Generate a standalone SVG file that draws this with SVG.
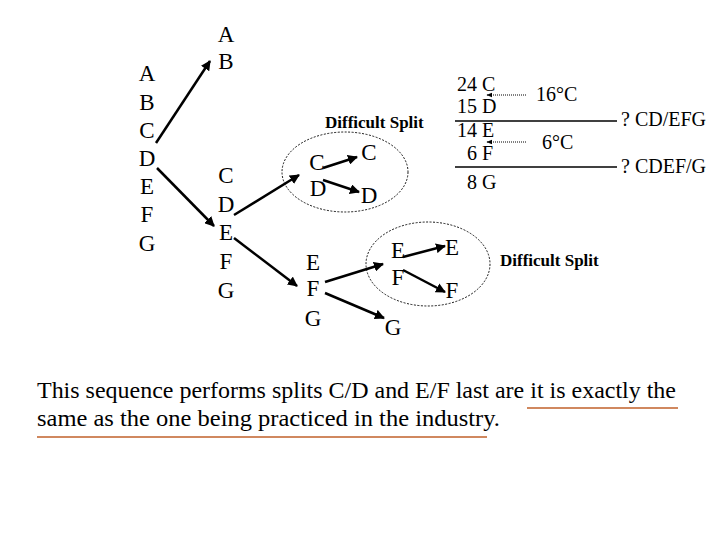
<svg xmlns="http://www.w3.org/2000/svg" width="720" height="540" viewBox="0 0 720 540">
<defs>
<marker id="ah" viewBox="0 0 10 10" refX="9" refY="5" markerWidth="4" markerHeight="4" orient="auto" markerUnits="strokeWidth"><path d="M0,0 L10,5 L0,10 z" fill="#000"/></marker>
<marker id="ahs" viewBox="0 0 10 10" refX="9" refY="5" markerWidth="6" markerHeight="6" orient="auto" markerUnits="userSpaceOnUse"><path d="M0,1 L10,5 L0,9 z" fill="#000"/></marker>
</defs>
<style>
text{font-family:"Liberation Serif","Times New Roman",serif;fill:#000}
.l{font-size:23px;text-anchor:middle}
.t{font-size:20px}
.s{font-size:17px;font-weight:bold}
.b{font-size:23px}
.c{stroke:#000;stroke-width:2.5;fill:none;marker-end:url(#ah)}
.d{stroke:#000;stroke-width:1;stroke-dasharray:1,1;fill:none;marker-end:url(#ahs)}
.e{stroke:#000;stroke-width:0.9;stroke-dasharray:2,1.5;fill:none}
.h{stroke:#000;stroke-width:1.3}
.u{stroke:#c0602a;stroke-width:1.3}
</style>
<rect width="720" height="540" fill="#fff"/>
<g id="col1">
<text class="l" x="147" y="81">A</text>
<text class="l" x="147" y="110">B</text>
<text class="l" x="147" y="138">C</text>
<text class="l" x="147" y="166">D</text>
<text class="l" x="147" y="194">E</text>
<text class="l" x="147" y="222">F</text>
<text class="l" x="147" y="251">G</text>
</g>
<g id="ab">
<text class="l" x="226" y="42">A</text>
<text class="l" x="226" y="69">B</text>
</g>
<g id="cdefg">
<text class="l" x="226" y="183">C</text>
<text class="l" x="226" y="212">D</text>
<text class="l" x="226" y="240">E</text>
<text class="l" x="226" y="269">F</text>
<text class="l" x="226" y="298">G</text>
</g>
<g id="cd">
<ellipse class="e" cx="345" cy="172" rx="63" ry="40"/>
<text class="s" x="325" y="128">Difficult Split</text>
<text class="l" x="317" y="170">C</text>
<text class="l" x="318" y="196">D</text>
<text class="l" x="369" y="160">C</text>
<text class="l" x="369" y="203">D</text>
</g>
<g id="efg">
<text class="l" x="313" y="270">E</text>
<text class="l" x="313" y="296">F</text>
<text class="l" x="313" y="326">G</text>
<text class="l" x="393" y="335">G</text>
</g>
<g id="ef">
<ellipse class="e" cx="428" cy="264" rx="62" ry="42"/>
<text class="l" x="398" y="258">E</text>
<text class="l" x="398" y="285">F</text>
<text class="l" x="452" y="255">E</text>
<text class="l" x="452" y="298">F</text>
<text class="s" x="500" y="266">Difficult Split</text>
</g>
<g id="table">
<text class="t" x="457" y="91">24 C</text>
<text class="t" x="457" y="113">15 D</text>
<text class="t" x="457" y="137">14 E</text>
<text class="t" x="467" y="160">6 F</text>
<text class="t" x="467" y="189">8 G</text>
<line class="h" x1="455" y1="121" x2="617" y2="121"/>
<line class="h" x1="455" y1="167" x2="617" y2="167"/>
<text class="t" x="536" y="101">16°C</text>
<text class="t" x="542" y="149">6°C</text>
<text class="t" x="621" y="126">? CD/EFG</text>
<text class="t" x="621" y="173">? CDEF/G</text>
</g>
<g id="connectors">
<line class="c" x1="156" y1="143" x2="210" y2="61"/>
<line class="c" x1="157" y1="168" x2="214" y2="226"/>
<line class="c" x1="234" y1="215" x2="299" y2="175"/>
<line class="c" x1="234" y1="238" x2="297" y2="286"/>
<line class="c" x1="323" y1="168" x2="357" y2="157"/>
<line class="c" x1="323" y1="180" x2="359" y2="192"/>
<line class="c" x1="325" y1="282" x2="383" y2="264"/>
<line class="c" x1="325" y1="293" x2="384" y2="318"/>
<line class="c" x1="403" y1="257" x2="445" y2="246"/>
<line class="c" x1="403" y1="270" x2="445" y2="292"/>
<line class="d" x1="526" y1="95" x2="487" y2="95"/>
<line class="d" x1="526" y1="142" x2="487" y2="142"/>
</g>
<g id="caption">
<text class="b" x="37" y="398" textLength="639" lengthAdjust="spacingAndGlyphs">This sequence performs splits C/D and E/F last are it is exactly the</text>
<text class="b" x="37" y="426" textLength="463" lengthAdjust="spacingAndGlyphs">same as the one being practiced in the industry.</text>
<line class="u" x1="527" y1="408" x2="678" y2="408"/>
<line class="u" x1="37" y1="437" x2="487" y2="437"/>
</g>
</svg>
